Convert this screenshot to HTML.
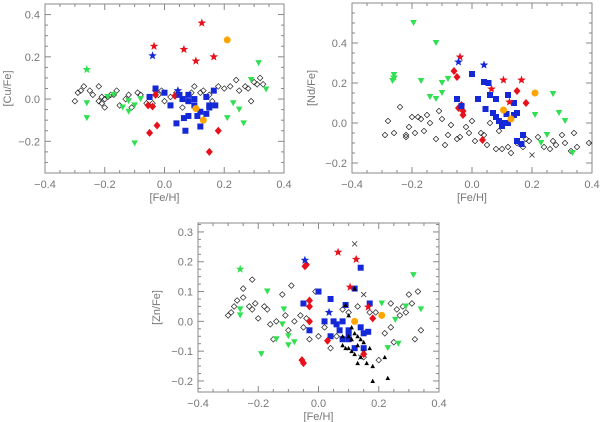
<!DOCTYPE html>
<html><head><meta charset="utf-8"><style>
html,body{margin:0;padding:0;background:#fff;width:600px;height:422px;overflow:hidden}
svg text{font-family:"Liberation Sans",sans-serif;fill:#777}
</style></head><body>
<svg id="c" width="600" height="422" xmlns="http://www.w3.org/2000/svg"></svg>
<script>
// ---------- Panel 1: [Cu/Fe] ----------
const cuOpenFeh=[-0.3,-0.29,-0.28,-0.27,-0.25,-0.24,-0.22,-0.22,-0.21,-0.21,-0.2,-0.2,-0.19,-0.18,-0.17,-0.16,-0.15,-0.13,-0.12,-0.11,-0.09,-0.08,-0.06,-0.05,-0.04,-0.02,-0.01,0.0,0.02,0.04,0.06,0.07,0.09,0.1,0.12,0.13,0.15,0.16,0.18,0.2,0.22,0.24,0.25,0.27,0.28,0.29,0.3,0.31,0.32,0.33];
const cuOpenVal=[-0.01,0.03,0.04,0.06,0.04,0.02,0.06,-0.01,-0.02,0.01,-0.04,0.0,0.01,0.02,0.02,0.04,-0.03,0.0,0.02,-0.04,0.03,0.02,-0.02,0.01,-0.02,0.02,0.04,-0.01,0.01,0.03,-0.04,0.0,0.03,0.06,0.03,0.04,0.02,-0.01,0.06,0.05,0.06,0.09,0.04,0.06,0.05,-0.01,0.08,0.07,0.1,0.07];
const cuGreenFeh=[-0.26,-0.26,-0.19,-0.17,-0.14,-0.12,-0.12,-0.1,-0.08,-0.1,0.21,0.23,0.25,0.265,0.29,0.315,0.34];
const cuGreenVal=[-0.02,-0.09,0.01,0.02,-0.04,-0.01,-0.06,-0.03,0.0,-0.21,-0.09,-0.02,-0.05,-0.115,0.09,0.17,0.045];
const cuGStarFeh=[-0.26];const cuGStarVal=[0.14];
const cuRStarFeh=[-0.035,0.065,0.125,0.105,0.165];const cuRStarVal=[0.25,0.235,0.36,0.18,0.2];
const cuBStarFeh=[-0.04,0.045];const cuBStarVal=[0.205,0.04];
const cuOrFeh=[0.21,0.105,0.13];const cuOrVal=[0.28,-0.045,-0.1];
const cuRDiaFeh=[-0.055,-0.04,-0.03,-0.03,-0.025,-0.05,0.035,0.15,0.18];const cuRDiaVal=[-0.03,-0.035,0.02,0.04,-0.125,-0.16,0.015,-0.25,-0.15];
const cuSqFeh=[-0.03,-0.05,0.0,0.02,0.05,0.06,0.04,0.065,0.07,0.08,0.08,0.08,0.1,0.1,0.11,0.12,0.12,0.14,0.14,0.15,0.15,0.165,0.17];
const cuSqVal=[0.05,0.01,0.03,-0.03,0.02,0.0,-0.115,-0.09,-0.15,-0.08,0.02,-0.01,0.0,-0.03,-0.08,-0.13,-0.06,-0.07,0.01,-0.03,-0.04,0.04,-0.03];
// ---------- Panel 2: [Nd/Fe] ----------
const ndOpenFeh=[-0.29,-0.28,-0.26,-0.24,-0.22,-0.22,-0.21,-0.2,-0.19,-0.18,-0.17,-0.16,-0.15,-0.14,-0.12,-0.11,-0.1,-0.09,-0.08,-0.07,-0.05,-0.04,-0.02,-0.01,0.0,0.01,0.03,0.04,0.05,0.06,0.08,0.09,0.1,0.12,0.13,0.15,0.17,0.18,0.19,0.22,0.24,0.26,0.27,0.28,0.3,0.31,0.33,0.34,0.35,0.39];
const ndOpenVal=[-0.06,0.01,-0.05,0.08,-0.06,-0.07,-0.02,0.03,-0.05,0.03,0.02,-0.04,0.04,0.0,-0.08,0.06,0.02,-0.11,-0.06,-0.01,-0.08,-0.07,-0.02,-0.05,0.01,-0.09,-0.05,-0.06,-0.11,0.0,-0.13,-0.04,-0.13,-0.12,-0.15,-0.1,-0.12,-0.08,-0.09,-0.07,-0.12,-0.13,-0.09,-0.11,-0.06,-0.1,-0.14,-0.05,-0.12,-0.1];
const ndGreenFeh=[-0.195,-0.12,-0.26,-0.26,-0.265,-0.17,-0.1,-0.08,-0.14,-0.12,-0.1,0.27,0.21,0.29,0.31,0.25,0.23,0.335];
const ndGreenVal=[0.5,0.4,0.24,0.22,0.21,0.21,0.2,0.22,0.13,0.12,0.15,0.145,0.04,0.05,0.01,-0.06,-0.1,-0.15];
const ndGStarFeh=[-0.26];const ndGStarVal=[0.23];
const ndRStarFeh=[-0.04,0.065,0.105,0.165,0.125];const ndRStarVal=[0.33,0.17,0.215,0.215,0.105];
const ndBStarFeh=[-0.045,0.04];const ndBStarVal=[0.305,0.29];
const ndOrFeh=[0.21,0.105,0.13];const ndOrVal=[0.15,0.065,0.02];
const ndRDiaFeh=[-0.06,-0.05,-0.045,-0.03,-0.03,-0.035,0.15,0.18,0.035];const ndRDiaVal=[0.26,0.23,0.075,0.06,0.04,0.09,0.16,0.1,-0.085];
const ndSqFeh=[0.0,0.04,0.055,-0.05,0.02,0.06,0.08,0.12,0.14,0.045,0.07,0.08,0.1,0.1,0.12,0.115,0.14,0.15,0.17,0.15,0.165,-0.035,0.09];
const ndSqVal=[0.245,0.205,0.2,0.12,0.12,0.14,0.12,0.14,0.1,0.07,0.05,0.03,0.0,-0.015,0.0,0.045,0.04,0.05,-0.06,-0.09,-0.105,0.085,0.01];
const ndCrossFeh=[0.2];const ndCrossVal=[-0.16];
// ---------- Panel 3: [Zn/Fe] ----------
const znOpenFeh=[-0.3,-0.29,-0.28,-0.27,-0.25,-0.25,-0.23,-0.22,-0.22,-0.21,-0.2,-0.18,-0.17,-0.16,-0.15,-0.14,-0.12,-0.11,-0.1,-0.09,-0.08,-0.06,-0.05,-0.04,-0.03,-0.01,0.0,0.02,0.04,0.06,0.08,0.1,0.13,0.15,0.17,0.19,0.2,0.22,0.24,0.24,0.25,0.26,0.27,0.28,0.29,0.3,0.31,0.32,0.33,0.34];
const znOpenVal=[0.02,0.03,0.05,0.07,0.11,0.08,0.05,0.14,0.04,0.06,0.01,0.05,0.04,-0.01,-0.06,0.0,0.09,0.02,-0.03,0.12,0.0,0.02,-0.02,0.01,-0.06,0.1,-0.05,-0.02,-0.09,-0.05,0.04,0.03,0.05,-0.12,0.03,0.03,-0.13,-0.04,-0.02,0.06,-0.07,0.04,0.02,0.05,0.03,0.09,0.06,-0.06,0.1,-0.03];
const znGreenFeh=[-0.26,-0.26,-0.17,-0.19,-0.14,-0.115,-0.12,-0.1,-0.1,-0.08,0.21,0.23,0.255,0.265,0.29,0.315,0.34];
const znGreenVal=[0.04,0.02,0.1,-0.11,-0.06,0.04,-0.01,-0.05,-0.08,-0.07,0.06,-0.09,0.005,-0.075,0.05,0.155,0.04];
const znGStarFeh=[-0.26];const znGStarVal=[0.175];
const znRStarFeh=[0.065,0.125,0.105,0.165];const znRStarVal=[0.232,0.208,0.115,0.048];
const znBStarFeh=[-0.045,0.035];const znBStarVal=[0.205,0.03];
const znOrFeh=[0.21,0.12];const znOrVal=[0.02,0.0];
const znRDiaFeh=[-0.045,-0.04,-0.03,-0.03,-0.03,0.03,-0.055,-0.05,0.15,0.18];const znRDiaVal=[0.185,0.19,0.07,0.05,0.0,-0.065,-0.13,-0.14,-0.11,0.01];
const znSqFeh=[0.0,0.12,0.14,-0.05,0.04,0.09,0.17,0.02,0.05,0.06,-0.03,0.04,0.07,0.08,0.08,0.1,0.1,0.12,0.14,0.15,0.15,0.165,0.1];
const znSqVal=[0.1,0.11,0.18,0.06,0.075,0.055,0.06,0.0,0.0,-0.01,-0.03,-0.05,-0.03,-0.06,0.0,-0.03,-0.06,-0.09,-0.02,-0.04,-0.09,-0.035,-0.04];
const znTriFeh=[0.12,0.09,0.1,0.11,0.1,0.08,0.09,0.11,0.12,0.13,0.14,0.13,0.15,0.14,0.17,0.13,0.16,0.18,0.18,0.22,0.23,0.1,0.15,0.12,0.11,0.08];
const znTriVal=[0.11,0.055,0.02,-0.02,-0.05,-0.08,-0.09,-0.06,-0.04,-0.05,-0.06,-0.08,-0.1,-0.12,-0.09,-0.14,-0.14,-0.15,-0.2,-0.12,-0.19,-0.09,-0.07,-0.11,-0.1,-0.05];
const znCrossFeh=[0.12,0.15,0.14];const znCrossVal=[0.26,0.09,-0.12];

const NS='http://www.w3.org/2000/svg';
const svg=document.getElementById('c');
function mk(tag,attrs,parent){const e=document.createElementNS(NS,tag);for(const k in attrs)e.setAttribute(k,attrs[k]);(parent||svg).appendChild(e);return e;}
const RED='#e8101a',BLUE='#1428d8',GREEN='#30e050',ORANGE='#ffa500';

function starPts(cx,cy,r){let p=[];for(let i=0;i<10;i++){const a=-Math.PI/2+i*Math.PI/5;const rr=i%2?r*0.42:r;p.push((cx+rr*Math.cos(a)).toFixed(1)+','+(cy+rr*Math.sin(a)).toFixed(1));}return p.join(' ');}

function panel(cfg){
  const g=mk('g',{});
  
  
  const sx=v=>cfg.x0+(v+0.4)/0.8*(cfg.x1-cfg.x0);
  const sy=v=>cfg.yb+(v-cfg.ymin)/(cfg.ymax-cfg.ymin)*(cfg.yt-cfg.yb);
  const frame=mk('rect',{x:cfg.x0,y:cfg.yt,width:cfg.x1-cfg.x0,height:cfg.yb-cfg.yt,fill:'none',stroke:'#888','stroke-width':1},g);
  
  
  // x ticks
  const xt=[-0.4,-0.2,0.0,0.2,0.4];const xl=['\u22120.4','\u22120.2','0.0','0.2','0.4'];
  for(let v=-0.4;v<=0.4001;v+=0.05){const X=sx(v);const maj=Math.abs(Math.round(v/0.2)*0.2-v)<1e-6;const L=maj?6:3;
    mk('line',{x1:X,x2:X,y1:cfg.yb,y2:cfg.yb-L,stroke:'#888'},g);mk('line',{x1:X,x2:X,y1:cfg.yt,y2:cfg.yt+L,stroke:'#888'},g);}
  xt.forEach((v,i)=>{const t=mk('text',{x:sx(v),y:cfg.yb+15,'font-size':11,'text-anchor':'middle'},g);t.textContent=xl[i];
    });
  const xtl=mk('text',{x:(cfg.x0+cfg.x1)/2,y:cfg.yb+28,'font-size':11,'text-anchor':'middle'},g);xtl.textContent='[Fe/H]';
  
  // y ticks
  const step=cfg.ystep,minor=step/4;
  const start=Math.ceil(cfg.ymin/minor-1e-6)*minor;
  for(let v=start;v<=cfg.ymax+1e-6;v+=minor){const Y=sy(v);const maj=Math.abs(Math.round(v/step)*step-v)<1e-6;const L=maj?6:3;
    mk('line',{x1:cfg.x0,x2:cfg.x0+L,y1:Y,y2:Y,stroke:'#888'},g);mk('line',{x1:cfg.x1,x2:cfg.x1-L,y1:Y,y2:Y,stroke:'#888'},g);}
  cfg.yticks.forEach(v=>{const t=mk('text',{x:cfg.x0-5,y:sy(v)+4,'font-size':11,'text-anchor':'end'},g);
    t.textContent=(v<0?'\u2212':'')+Math.abs(v).toFixed(1);});
  const cy=(cfg.yt+cfg.yb)/2;
  const ytl=mk('text',{x:cfg.ytx,y:cy,'font-size':11,'text-anchor':'middle',transform:`rotate(-90 ${cfg.ytx} ${cy})`},g);ytl.textContent=cfg.ytitle;
  
  const mg=mk('g',{},g);
  function draw(fx,fy,kind,color,name){
    fx.forEach((xv,i)=>{const X=sx(xv),Y=sy(fy[i]);let e;
      if(kind==='odia')e=mk('polygon',{points:`${X},${Y-2.8} ${X+2.8},${Y} ${X},${Y+2.8} ${X-2.8},${Y}`,fill:'none',stroke:'#222','stroke-width':0.7},mg);
      else if(kind==='dia')e=mk('polygon',{points:`${X},${Y-4} ${X+3.5},${Y} ${X},${Y+4} ${X-3.5},${Y}`,fill:color},mg);
      else if(kind==='sq')e=mk('rect',{x:X-3,y:Y-3,width:6,height:6,fill:color},mg);
      else if(kind==='star')e=mk('polygon',{points:starPts(X,Y,4.5),fill:color},mg);
      else if(kind==='circ')e=mk('circle',{cx:X,cy:Y,r:3.5,fill:color},mg);
      else if(kind==='tri')e=mk('polygon',{points:`${X-3.3},${Y-3} ${X+3.3},${Y-3} ${X},${Y+3}`,fill:color},mg);
      else if(kind==='utri')e=mk('polygon',{points:`${X-2.3},${Y+2} ${X+2.3},${Y+2} ${X},${Y-2.3}`,fill:color},mg);
      else if(kind==='cross'){e=mk('path',{d:`M${X-2.5},${Y-2.5}L${X+2.5},${Y+2.5}M${X-2.5},${Y+2.5}L${X+2.5},${Y-2.5}`,stroke:'#333','stroke-width':0.8},mg);}
      
      
    });
  }
  cfg.series.forEach(s=>draw(s[0],s[1],s[2],s[3],s[4]));
}

panel({name:'cu-fe-panel',x0:45,x1:284,yt:4,yb:173,ymin:-0.35,ymax:0.45,ystep:0.2,yticks:[-0.2,0.0,0.2,0.4],ytitle:'[Cu/Fe]',ytx:11,
 series:[[cuOpenFeh,cuOpenVal,'odia','#222','open-diamond-point'],[cuGreenFeh,cuGreenVal,'tri',GREEN,'green-triangle-point'],[cuGStarFeh,cuGStarVal,'star',GREEN,'green-star-point'],
 [cuRDiaFeh,cuRDiaVal,'dia',RED,'red-diamond-point'],[cuSqFeh,cuSqVal,'sq',BLUE,'blue-square-point'],[cuRStarFeh,cuRStarVal,'star',RED,'red-star-point'],
 [cuBStarFeh,cuBStarVal,'star',BLUE,'blue-star-point'],[cuOrFeh,cuOrVal,'circ',ORANGE,'orange-circle-point']]});
panel({name:'nd-fe-panel',x0:352,x1:592,yt:3,yb:173,ymin:-0.25,ymax:0.6,ystep:0.2,yticks:[-0.2,0.0,0.2,0.4],ytitle:'[Nd/Fe]',ytx:315,
 series:[[ndOpenFeh,ndOpenVal,'odia','#222','open-diamond-point'],[ndCrossFeh,ndCrossVal,'cross','#333','cross-point'],[ndGreenFeh,ndGreenVal,'tri',GREEN,'green-triangle-point'],[ndGStarFeh,ndGStarVal,'star',GREEN,'green-star-point'],
 [ndRDiaFeh,ndRDiaVal,'dia',RED,'red-diamond-point'],[ndSqFeh,ndSqVal,'sq',BLUE,'blue-square-point'],[ndRStarFeh,ndRStarVal,'star',RED,'red-star-point'],
 [ndBStarFeh,ndBStarVal,'star',BLUE,'blue-star-point'],[ndOrFeh,ndOrVal,'circ',ORANGE,'orange-circle-point']]});
panel({name:'zn-fe-panel',x0:198,x1:439,yt:223,yb:392,ymin:-0.237,ymax:0.33,ystep:0.1,yticks:[-0.2,-0.1,0.0,0.1,0.2,0.3],ytitle:'[Zn/Fe]',ytx:160,
 series:[[znOpenFeh,znOpenVal,'odia','#222','open-diamond-point'],[znCrossFeh,znCrossVal,'cross','#333','cross-point'],[znGreenFeh,znGreenVal,'tri',GREEN,'green-triangle-point'],[znGStarFeh,znGStarVal,'star',GREEN,'green-star-point'],
 [znSqFeh,znSqVal,'sq',BLUE,'blue-square-point'],[znTriFeh,znTriVal,'utri','#000','black-triangle-point'],[znRDiaFeh,znRDiaVal,'dia',RED,'red-diamond-point'],[znRStarFeh,znRStarVal,'star',RED,'red-star-point'],
 [znBStarFeh,znBStarVal,'star',BLUE,'blue-star-point'],[znOrFeh,znOrVal,'circ',ORANGE,'orange-circle-point']]});
</script>
</body></html>
